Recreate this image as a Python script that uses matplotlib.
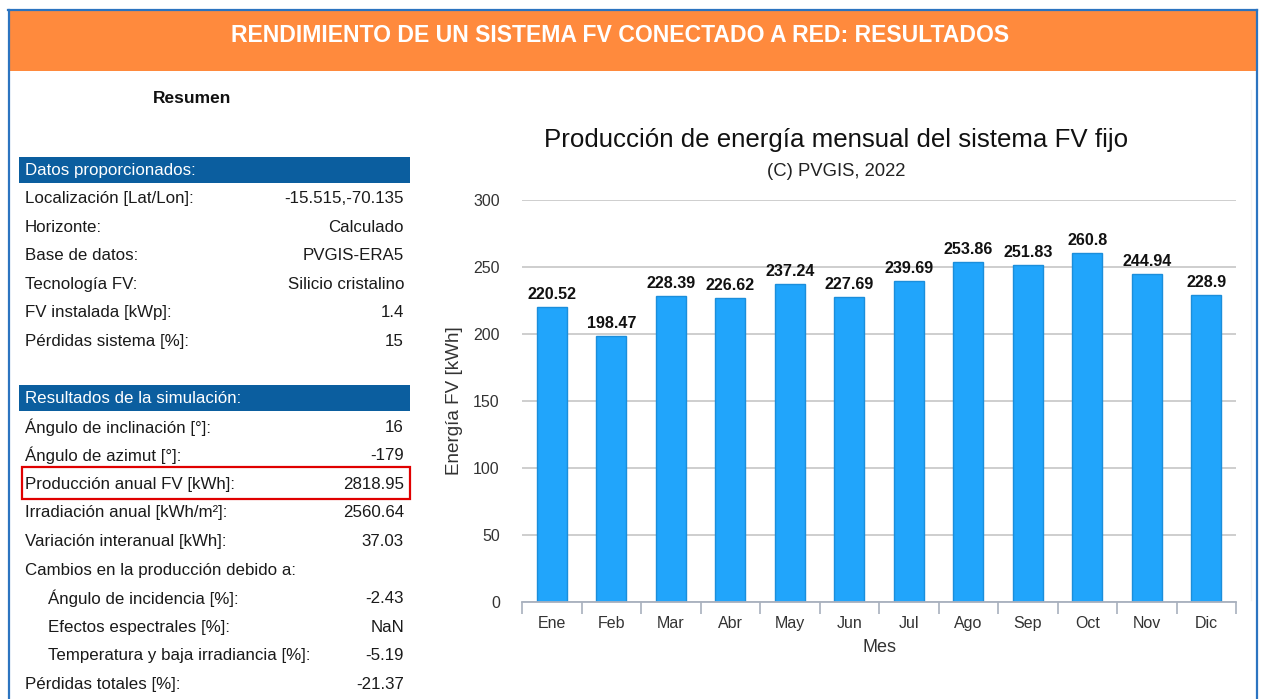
import matplotlib
matplotlib.use("Agg")
import matplotlib.pyplot as plt
from matplotlib.patches import Rectangle

plt.rcParams['font.family'] = ['Liberation Sans', 'DejaVu Sans']

# ---------------- data ----------------
header_title = "RENDIMIENTO DE UN SISTEMA FV CONECTADO A RED: RESULTADOS"
summary_title = "Resumen"

input_header = "Datos proporcionados:"
input_labels = ["Localización [Lat/Lon]:", "Horizonte:", "Base de datos:",
                "Tecnología FV:", "FV instalada [kWp]:", "Pérdidas sistema [%]:"]
input_values = ["-15.515,-70.135", "Calculado", "PVGIS-ERA5",
                "Silicio cristalino", "1.4", "15"]

results_header = "Resultados de la simulación:"
result_labels = ["Ángulo de inclinación [°]:", "Ángulo de azimut [°]:",
                 "Producción anual FV [kWh]:", "Irradiación anual [kWh/m²]:",
                 "Variación interanual [kWh]:", "Cambios en la producción debido a:",
                 "Ángulo de incidencia [%]:", "Efectos espectrales [%]:",
                 "Temperatura y baja irradiancia [%]:", "Pérdidas totales [%]:"]
result_values = ["16", "-179", "2818.95", "2560.64", "37.03", "",
                 "-2.43", "NaN", "-5.19", "-21.37"]
result_indent = [False, False, False, False, False, False, True, True, True, False]
highlight_row = 2

chart_title = "Producción de energía mensual del sistema FV fijo"
chart_subtitle = "(C) PVGIS, 2022"
months = ["Ene", "Feb", "Mar", "Abr", "May", "Jun",
          "Jul", "Ago", "Sep", "Oct", "Nov", "Dic"]
energy = [220.52, 198.47, 228.39, 226.62, 237.24, 227.69,
          239.69, 253.86, 251.83, 260.8, 244.94, 228.9]
y_ticks = [0, 50, 100, 150, 200, 250, 300]
x_label = "Mes"
y_label = "Energía FV [kWh]"

# ---------------- figure ----------------
W, H = 1264, 699
fig = plt.figure(figsize=(W / 100, H / 100), dpi=100)
fig.patch.set_facecolor("white")

ov = fig.add_axes([0, 0, 1, 1], zorder=0)
ov.set_xlim(0, W)
ov.set_ylim(H, 0)
ov.axis("off")

BLUE_BORDER = "#2C74C0"
ORANGE = "#FF8A3D"
BAND = "#0B5E9F"

# outer frame
ov.plot([8.5, 8.5], [10, H], color=BLUE_BORDER, lw=1.6)
ov.plot([8, 1257], [10, 10], color=BLUE_BORDER, lw=1.6)
ov.plot([1256.5, 1256.5], [10, H], color=BLUE_BORDER, lw=1.6)
ov.plot([1250.5, 1250.5], [90, 600], color="#F2F2F2", lw=1.0)

# orange header
ov.add_patch(Rectangle((9.5, 11), 1246.5, 60, facecolor=ORANGE, edgecolor="none"))
ov.text(620, 36, header_title, color="white", fontsize=16.6, fontweight="bold",
        ha="center", va="center")

# summary
ov.text(192, 98.5, summary_title, fontsize=12.5, fontweight="bold", ha="center",
        va="center", color="#111111")

text_kw = dict(fontsize=12.2, va="center", color="#1a1a1a")
row_h = 28.6

# input data section
ov.add_patch(Rectangle((19, 157), 391, 26, facecolor=BAND, edgecolor="none"))
ov.text(25, 170.5, input_header, color="white", fontsize=12.2, va="center")
for i, (lab, val) in enumerate(zip(input_labels, input_values)):
    y = 198.5 + i * row_h
    ov.text(25, y, lab, ha="left", **text_kw)
    ov.text(404, y, val, ha="right", **text_kw)

# results section
ov.add_patch(Rectangle((19, 385), 391, 26, facecolor=BAND, edgecolor="none"))
ov.text(25, 398.5, results_header, color="white", fontsize=12.2, va="center")
for i, (lab, val, ind) in enumerate(zip(result_labels, result_values, result_indent)):
    y = 427 + i * row_h
    ov.text(48 if ind else 25, y, lab, ha="left", **text_kw)
    if val:
        ov.text(404, y, val, ha="right", **text_kw)
    if i == highlight_row:
        ov.add_patch(Rectangle((21.5, y - 17), 388.5, 32, facecolor="none",
                               edgecolor="#E00000", lw=1.6))

# ---------------- bar chart ----------------
ax_l, ax_r, ax_t, ax_b = 522, 1236, 200, 602
ax = fig.add_axes([ax_l / W, 1 - ax_b / H, (ax_r - ax_l) / W, (ax_b - ax_t) / H], zorder=1)
ax.set_facecolor("none")
x = list(range(len(months)))
ax.bar(x, energy, width=0.5, color="#21A5FB", edgecolor="#1B8EDB", linewidth=1.0, zorder=3)
for xi, v in zip(x, energy):
    ax.annotate(str(v), (xi, v), xytext=(0, 3.5), textcoords="offset points",
                ha="center", va="bottom", fontsize=11.6, fontweight="bold", color="#111111")

ax.set_xlim(-0.5, len(months) - 0.5)
ax.set_ylim(0, 300)
ax.set_yticks(y_ticks)
ax.set_yticklabels([str(t) for t in y_ticks])
ax.grid(axis="y", color="#CACACA", lw=1.3, zorder=0)
for s in ["top", "right", "left"]:
    ax.spines[s].set_visible(False)
ax.spines["bottom"].set_color("#A8B0BE")
ax.spines["bottom"].set_linewidth(1.3)
ax.spines["bottom"].set_zorder(4)
ax.tick_params(axis="y", length=0, pad=16, labelsize=11.5, labelcolor="#333333")
ax.set_xticks(x)
ax.set_xticklabels(months)
ax.set_xticks([i - 0.5 for i in range(len(months) + 1)], minor=True)
ax.tick_params(axis="x", which="major", length=0, pad=18.5, labelsize=11.5, labelcolor="#333333")
ax.tick_params(axis="x", which="minor", length=8.5, width=1.2, color="#A8B0BE", direction="out")
for lbl in ax.get_xticklabels():
    lbl.set_verticalalignment("baseline")

fig.text(836 / W, 1 - 140 / H, chart_title, fontsize=18.6, ha="center", va="center", color="#111111")
fig.text(836 / W, 1 - 172 / H, chart_subtitle, fontsize=13.3, ha="center", va="center", color="#222222")
fig.text(879 / W, 1 - 648 / H, x_label, fontsize=13, ha="center", va="center", color="#333333")
fig.text(454 / W, 1 - 401 / H, y_label, fontsize=13.6, ha="center", va="center",
         rotation=90, color="#333333")

fig.savefig("out.png", dpi=100, facecolor="white")
